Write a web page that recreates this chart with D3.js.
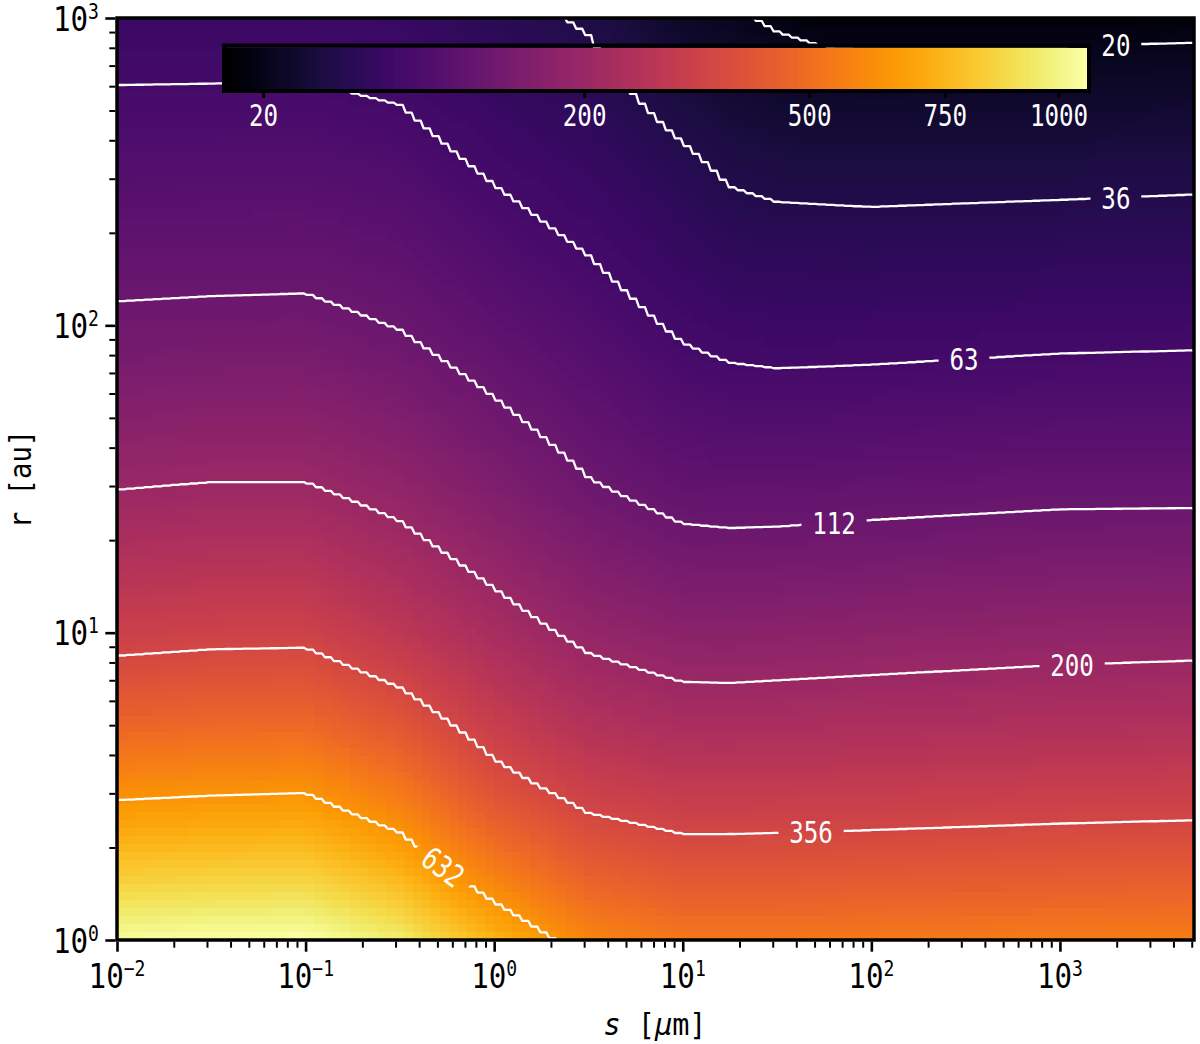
<!DOCTYPE html>
<html><head><meta charset="utf-8">
<script src="https://cdn.jsdelivr.net/npm/d3@7"></script>
<style>body{margin:0;background:#fff} svg{display:block}</style>
</head><body>
<svg id="c" width="1200" height="1044"></svg>
<script>
// ---------------- data ----------------
// grain sizes s [µm] of the table columns, radii r [au] of the table rows
const sValues = [0.01, 0.0316, 0.1, 0.316, 1, 3.16, 10, 17.8, 31.6, 56.2, 100, 1000, 5140];
const rValues = [1, 3.16, 10, 31.6, 100, 316, 1000];
// temperature [K] at r = rValues, one array per grain size
const T_s0_01  = [1045, 602, 324, 193, 120, 79.1, 53.2];
const T_s0_032 = [1060, 612, 333, 198, 122, 79.6, 53.3];
const T_s0_1   = [1067, 618, 335, 198, 123, 80.0, 53.6];
const T_s0_32  = [955, 530, 285, 175, 111, 75.0, 50.7];
const T_s1     = [741, 391, 230, 142, 91.6, 61.1, 40.5];
const T_s3_2   = [580, 321, 186, 113, 75.9, 50.8, 34.0];
const T_s10    = [531, 297, 166, 95.9, 60.0, 39.4, 23.0];
const T_s18    = [531, 297, 165, 94.0, 55.7, 33.9, 21.0];
const T_s32    = [531, 299, 167, 94.2, 54.2, 32.1, 19.1];
const T_s56    = [534, 300, 169, 95.4, 54.4, 31.7, 18.0];
const T_s100   = [537, 302, 171, 96.6, 54.7, 31.3, 18.1];
const T_s1000  = [547, 310, 178, 100.5, 57.0, 32.0, 18.0];
const T_s5140  = [553, 314, 181, 100.7, 57.8, 32.7, 18.2];
// contour levels and where their labels sit (grain size of the label)
const levels      = [20, 35.57, 63.25, 112.47, 200, 355.66, 632.46];
const levelLabels = ["20", "36", "63", "112", "200", "356", "632"];
const labelS      = [1980, 1980, 310, 63.4, 1160, 47.9, 0.536];
// colorbar ticks
const cbTicks = [20, 200, 500, 750, 1000];
// axis decades
const xMajor = [0.01, 0.1, 1, 10, 100, 1000];
const yMajor = [1, 10, 100, 1000];

// ---------------- setup ----------------
const W = 1200, H = 1044;
const P = {l: 117, r: 1194, t: 18, b: 940};
const pw = P.r - P.l, ph = P.b - P.t;
const svg = d3.select("#c");
const defs = svg.append("defs");
const FONT = "DejaVu Sans Mono";

const x = d3.scaleLog().domain([0.01, 5140]).range([P.l, P.r]);
const y = d3.scaleLog().domain([1, 1000]).range([P.b, P.t]);

const table = [T_s0_01, T_s0_032, T_s0_1, T_s0_32, T_s1, T_s3_2, T_s10, T_s18, T_s32, T_s56, T_s100, T_s1000, T_s5140];
const logT = table.map(c => c.map(v => Math.log10(v)));
const lsG = sValues.map(Math.log10), lrG = rValues.map(Math.log10);
const tMin = d3.min(table.flat()), tMax = d3.max(table.flat());

function idx(arr, v) {
  return Math.max(0, Math.min(arr.length - 2, d3.bisectRight(arr, v) - 1));
}
function field(ls, lr) {
  const i = idx(lsG, ls), j = idx(lrG, lr);
  const u = (ls - lsG[i]) / (lsG[i + 1] - lsG[i]);
  const v = (lr - lrG[j]) / (lrG[j + 1] - lrG[j]);
  return (1 - u) * (1 - v) * logT[i][j] + u * (1 - v) * logT[i + 1][j] +
         (1 - u) * v * logT[i][j + 1] + u * v * logT[i + 1][j + 1];
}
const norm = d3.scaleLinear().domain([tMin, tMax]).range([0, 1]).clamp(true);
const color = t => d3.interpolateInferno(Math.sqrt(norm(t)));

defs.append("clipPath").attr("id", "pc").append("rect")
  .attr("x", P.l).attr("y", P.t).attr("width", pw).attr("height", ph);

// ---------------- heatmap ----------------
const NX = 120, NY = 115;
const cw = pw / NX, ch = ph / NY;
const cells = [];
for (let i = 0; i < NX; i++) for (let j = 0; j < NY; j++) {
  const ls = Math.log10(x.invert(P.l + (i + 0.5) * cw));
  const lr = Math.log10(y.invert(P.t + (j + 0.5) * ch));
  cells.push({i, j, t: Math.pow(10, field(ls, lr))});
}
svg.append("g").attr("clip-path", "url(#pc)").selectAll("rect").data(cells).join("rect")
  .attr("x", d => P.l + d.i * cw).attr("y", d => P.t + d.j * ch)
  .attr("width", cw + 0.7).attr("height", ch + 0.7)
  .attr("fill", d => color(d.t)).attr("shape-rendering", "crispEdges");

// ---------------- contours ----------------
const SUB = 3, CX = NX * SUB, CY = 460;
const vals = new Float64Array(CX * CY);
for (let j = 0; j < CY; j++) {
  const lr = Math.log10(y.invert(P.t + (j + 0.5) * ph / CY));
  for (let i = 0; i < CX; i++) {
    const col = Math.floor(i / SUB);
    const ls = Math.log10(x.invert(P.l + (col + 0.5) * cw));
    vals[j * CX + i] = field(ls, lr);
  }
}
const cs = d3.contours().size([CX, CY]).smooth(true)
  .thresholds(levels.map(Math.log10))(Array.from(vals));
const gxp = g => P.l + g * pw / CX, gyp = g => P.t + g * ph / CY;
const eps = 1e-6;
function lines(geom) {
  const out = [];
  geom.coordinates.forEach(poly => poly.forEach(ring => {
    let cur = [];
    for (let k = 1; k < ring.length; k++) {
      const q = ring[k - 1], p = ring[k];
      const onB = (q[0] <= eps && p[0] <= eps) || (q[0] >= CX - eps && p[0] >= CX - eps) ||
                  (q[1] <= eps && p[1] <= eps) || (q[1] >= CY - eps && p[1] >= CY - eps);
      if (onB) { if (cur.length > 1) out.push(cur); cur = []; }
      else { if (!cur.length) cur.push([gxp(q[0]), gyp(q[1])]); cur.push([gxp(p[0]), gyp(p[1])]); }
    }
    if (cur.length > 1) out.push(cur);
  }));
  return out;
}
const contourLines = cs.map(c => lines(c));

function yAt(pl, px) {
  for (const line of pl) for (let k = 1; k < line.length; k++) {
    const a = line[k - 1], b = line[k];
    if ((a[0] - px) * (b[0] - px) <= 0 && a[0] !== b[0]) {
      return a[1] + (b[1] - a[1]) * (px - a[0]) / (b[0] - a[0]);
    }
  }
  return null;
}

// label placement
const labels = levels.map((lv, k) => {
  const px = x(labelS[k]);
  const py = yAt(contourLines[k], px);
  const y1 = yAt(contourLines[k], px - 22), y2 = yAt(contourLines[k], px + 22);
  let ang = (y1 != null && y2 != null) ? Math.atan2(y2 - y1, 44) * 180 / Math.PI : 0;
  if (Math.abs(ang) < 10) ang = 0;
  return {px, py, ang, text: levelLabels[k]};
}).filter(d => d.py != null);

const mask = defs.append("mask").attr("id", "lm").attr("maskUnits", "userSpaceOnUse")
  .attr("x", 0).attr("y", 0).attr("width", W).attr("height", H);
mask.append("rect").attr("width", W).attr("height", H).attr("fill", "white");
labels.forEach(d => {
  const hw = d.text.length * 14.4 / 2 + 11;
  mask.append("rect").attr("x", -hw).attr("y", -16).attr("width", 2 * hw).attr("height", 32)
    .attr("fill", "black").attr("transform", `translate(${d.px},${d.py}) rotate(${d.ang})`);
});

const line = d3.line();
svg.append("g").attr("clip-path", "url(#pc)").append("g").attr("mask", "url(#lm)")
  .selectAll("path").data(contourLines.flat()).join("path")
  .attr("d", d => line(d)).attr("fill", "none").attr("stroke", "#fff")
  .attr("stroke-width", 2.3).attr("stroke-linejoin", "round").attr("stroke-linecap", "round");

svg.append("g").selectAll("g").data(labels).join("g")
  .attr("transform", d => `translate(${d.px},${d.py}) rotate(${d.ang})`)
  .append("text").attr("transform", "scale(0.78,1)")
  .attr("text-anchor", "middle").attr("dy", "0.36em")
  .attr("font-family", FONT).attr("font-size", 31).attr("fill", "#fff")
  .text(d => d.text);

// ---------------- colorbar ----------------
const cb = {x0: 226, x1: 1087, y0: 47.5, y1: 89};
const cbScale = d3.scalePow().exponent(0.5).domain([0, tMax - tMin]).range([cb.x0, cb.x1]);
const cbPos = v => cbScale(v - tMin);
const NB = 256;
svg.append("g").selectAll("rect").data(d3.range(NB)).join("rect")
  .attr("x", k => cb.x0 + k * (cb.x1 - cb.x0) / NB).attr("y", cb.y0)
  .attr("width", (cb.x1 - cb.x0) / NB + 0.6).attr("height", cb.y1 - cb.y0)
  .attr("fill", k => d3.interpolateInferno((k + 0.5) / NB)).attr("shape-rendering", "crispEdges");
svg.append("rect").attr("x", cb.x0 - 2).attr("y", cb.y0 - 2)
  .attr("width", cb.x1 - cb.x0 + 4).attr("height", cb.y1 - cb.y0 + 4)
  .attr("fill", "none").attr("stroke", "#000").attr("stroke-width", 4);
const cbt = svg.append("g").selectAll("g").data(cbTicks).join("g")
  .attr("transform", d => `translate(${cbPos(d)},0)`);
cbt.append("line").attr("y1", cb.y1 + 4).attr("y2", cb.y1 + 9)
  .attr("stroke", "#000").attr("stroke-width", 3);
cbt.append("text").attr("transform", "translate(0,126) scale(0.78,1)")
  .attr("text-anchor", "middle").attr("font-family", FONT).attr("font-size", 31)
  .attr("fill", "#fff").text(d => d);

// ---------------- frame & axes ----------------
svg.append("rect").attr("x", P.l).attr("y", P.t).attr("width", pw).attr("height", ph)
  .attr("fill", "none").attr("stroke", "#000").attr("stroke-width", 3.5);

function minors(lo, hi) {
  const out = [];
  for (let e = Math.floor(Math.log10(lo)); e <= Math.ceil(Math.log10(hi)); e++)
    for (let m = 2; m <= 9; m++) { const v = m * Math.pow(10, e); if (v > lo && v < hi) out.push(v); }
  return out;
}
const xMinor = minors(0.01, 5140), yMinor = minors(1, 1000);

const xAxisMaj = d3.axisBottom(x).tickValues(xMajor).tickSize(10).tickFormat("");
const xAxisMin = d3.axisBottom(x).tickValues(xMinor).tickSize(6).tickFormat("");
const yAxisMaj = d3.axisLeft(y).tickValues(yMajor).tickSize(10).tickFormat("");
const yAxisMin = d3.axisLeft(y).tickValues(yMinor).tickSize(6).tickFormat("");
function styleAx(g, w) {
  g.select(".domain").remove();
  g.selectAll(".tick line").attr("stroke", "#000").attr("stroke-width", w);
}
svg.append("g").attr("transform", `translate(0,${P.b + 1.7})`).call(xAxisMaj).call(g => styleAx(g, 2.6));
svg.append("g").attr("transform", `translate(0,${P.b + 1.7})`).call(xAxisMin).call(g => styleAx(g, 2));
svg.append("g").attr("transform", `translate(${P.l - 1.7},0)`).call(yAxisMaj).call(g => styleAx(g, 2.6));
svg.append("g").attr("transform", `translate(${P.l - 1.7},0)`).call(yAxisMin).call(g => styleAx(g, 2));

function powLabel(sel, anchor) {
  const t = sel.append("text").attr("text-anchor", anchor).attr("font-family", FONT)
    .attr("font-size", 34).attr("fill", "#000");
  t.append("tspan").text("10");
  t.append("tspan").attr("font-size", 21).attr("dy", -12)
    .text(d => { const e = Math.round(Math.log10(d)); return e < 0 ? "\u2212" + (-e) : String(e); });
}
svg.append("g").selectAll("g").data(xMajor).join("g")
  .attr("transform", d => `translate(${x(d)},988) scale(0.86,1)`)
  .call(s => powLabel(s, "middle"));
svg.append("g").selectAll("g").data(yMajor).join("g")
  .attr("transform", d => `translate(99,${y(d) + 12.5}) scale(0.86,1)`)
  .call(s => powLabel(s, "end"));

// axis titles
const xl = svg.append("text").attr("transform", "translate(655,1035) scale(0.92,1)")
  .attr("text-anchor", "middle").attr("font-family", FONT).attr("font-size", 31).attr("fill", "#000");
xl.append("tspan").attr("font-style", "italic").text("s");
xl.append("tspan").text(" [");
xl.append("tspan").attr("font-style", "italic").text("\u03bc");
xl.append("tspan").text("m]");
svg.append("text").attr("transform", "translate(31,479) rotate(-90) scale(0.88,1)")
  .attr("text-anchor", "middle").attr("font-family", FONT).attr("font-size", 31).attr("fill", "#000")
  .text("r [au]");
</script>
</body></html>
